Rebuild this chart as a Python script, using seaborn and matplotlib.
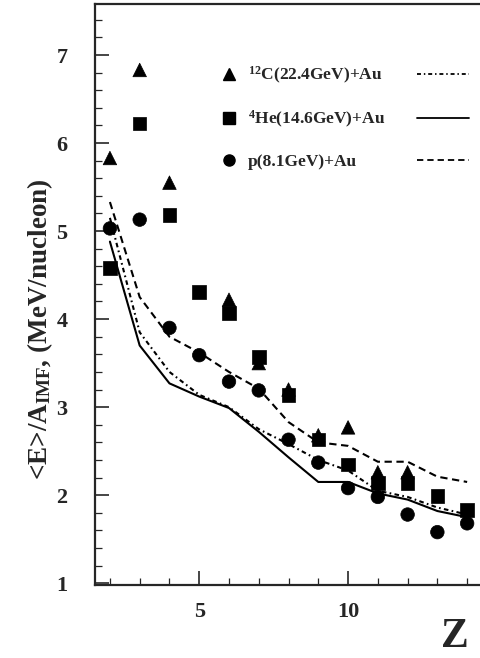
import numpy as np
import pandas as pd
import matplotlib
matplotlib.use("Agg")
import matplotlib.pyplot as plt
from matplotlib.lines import Line2D
import seaborn as sns

# ---- data ----
z_c = [2, 3, 4, 6, 7, 8, 9, 10, 11, 12]
e_c = [5.83, 6.83, 5.55, 4.22, 3.50, 3.20, 2.68, 2.77, 2.26, 2.26]
z_he = [2, 3, 4, 5, 6, 7, 8, 9, 10, 11, 12, 13, 14]
e_he = [4.58, 6.22, 5.18, 4.31, 4.07, 3.57, 3.14, 2.63, 2.35, 2.14, 2.14, 1.99, 1.83]
z_p = [2, 3, 4, 5, 6, 7, 8, 9, 10, 11, 12, 13, 14]
e_p = [5.03, 5.13, 3.90, 3.59, 3.29, 3.19, 2.63, 2.37, 2.08, 1.98, 1.78, 1.58, 1.68]

z_line = [2, 3, 4, 5, 6, 7, 8, 9, 10, 11, 12, 13, 14]
calc_c = [5.15, 3.85, 3.40, 3.14, 3.00, 2.75, 2.58, 2.40, 2.28, 2.05, 1.98, 1.86, 1.78]
calc_he = [4.88, 3.70, 3.27, 3.12, 2.99, 2.72, 2.43, 2.15, 2.15, 2.02, 1.95, 1.82, 1.75]
calc_p = [5.33, 4.25, 3.80, 3.62, 3.40, 3.21, 2.83, 2.60, 2.56, 2.38, 2.38, 2.21, 2.15]

labels = [r"$^{12}$C(22.4GeV)+Au", r"$^{4}$He(14.6GeV)+Au", "p(8.1GeV)+Au"]
dash_c = (2.2, 1.6, 0.8, 1.6)
dash_p = (3.5, 2.2)

sns.set_style("ticks")
plt.rcParams["font.family"] = ["Liberation Serif", "DejaVu Serif"]
plt.rcParams["font.weight"] = "bold"
plt.rcParams["mathtext.fontset"] = "custom"
plt.rcParams["mathtext.rm"] = "Liberation Serif:bold"
plt.rcParams["mathtext.it"] = "Liberation Serif:bold"
plt.rcParams["mathtext.bf"] = "Liberation Serif:bold"

fig = plt.figure(figsize=(4.8, 6.58), dpi=100)
ax = fig.add_axes([0.198, 0.111, 0.80, 0.883])

pts = pd.concat([
    pd.DataFrame({"Z": z_c, "E": e_c, "sys": labels[0]}),
    pd.DataFrame({"Z": z_he, "E": e_he, "sys": labels[1]}),
    pd.DataFrame({"Z": z_p, "E": e_p, "sys": labels[2]}),
])
lines = pd.concat([
    pd.DataFrame({"Z": z_line, "E": calc_c, "sys": labels[0]}),
    pd.DataFrame({"Z": z_line, "E": calc_he, "sys": labels[1]}),
    pd.DataFrame({"Z": z_line, "E": calc_p, "sys": labels[2]}),
])

sns.lineplot(data=lines, x="Z", y="E", hue="sys", style="sys",
             palette=["black"] * 3,
             dashes={labels[0]: dash_c, labels[1]: "", labels[2]: dash_p},
             linewidth=1.5, legend=False, ax=ax)
sns.scatterplot(data=pts, x="Z", y="E", hue="sys", style="sys",
                palette=["black"] * 3,
                markers={labels[0]: "^", labels[1]: "s", labels[2]: "o"},
                s=95, edgecolor="black", linewidth=0.5, legend=False, ax=ax, zorder=3)

ax.set_xlim(1.5, 14.4)
ax.set_ylim(0.98, 7.58)
ax.set_xticks([5, 10])
ax.set_xticks(range(2, 15), minor=True)
ax.set_yticks(range(1, 8))
ax.set_yticks(np.arange(1, 7.6, 0.2), minor=True)
ax.tick_params(axis="both", which="major", direction="in", length=10, width=1.2,
               labelsize=16)
ax.tick_params(axis="both", which="minor", direction="in", length=5, width=0.9)
ax.tick_params(axis="y", which="major", pad=20)
ax.tick_params(axis="x", which="major", pad=12)
for lab in ax.get_xticklabels() + ax.get_yticklabels():
    lab.set_fontweight("bold")
for s in ["left", "bottom", "top"]:
    ax.spines[s].set_linewidth(1.6)
ax.spines["right"].set_visible(False)

ax.set_xlabel("")
ax.set_ylabel(r"<E>/A$_{\mathrm{IMF}}$, (MeV/nucleon)", fontsize=19.5,
              fontweight="bold")
ax.yaxis.set_label_coords(-0.105, 0.44)
fig.text(0.948, 0.003, "Z", fontsize=30, fontweight="bold", ha="center", va="bottom")

mk = [Line2D([], [], marker=m, color="black", ls="none", markersize=8)
      for m in ["^", "s", "o"]]
ln = [Line2D([], [], color="black", lw=1.3, ls=(0, dash_c)),
      Line2D([], [], color="black", lw=1.3, ls="-"),
      Line2D([], [], color="black", lw=1.3, ls=(0, dash_p))]
leg1 = ax.legend(mk, labels, loc="upper left", bbox_to_anchor=(0.325, 0.895),
                 frameon=False, fontsize=12.5, labelspacing=1.34, handletextpad=0.6,
                 handlelength=1.0, borderaxespad=0, borderpad=0)
for t in leg1.get_texts():
    t.set_fontweight("bold")
ax.add_artist(leg1)
leg2 = ax.legend(ln, labels, loc="upper right", bbox_to_anchor=(0.975, 0.895),
                 frameon=False, fontsize=12.5, labelspacing=1.34, handlelength=3.0,
                 handletextpad=0.3, borderaxespad=0, borderpad=0, markerfirst=False)
for t in leg2.get_texts():
    t.set_fontweight("bold")
    t.set_visible(False)

fig.savefig("out.png", dpi=100)
